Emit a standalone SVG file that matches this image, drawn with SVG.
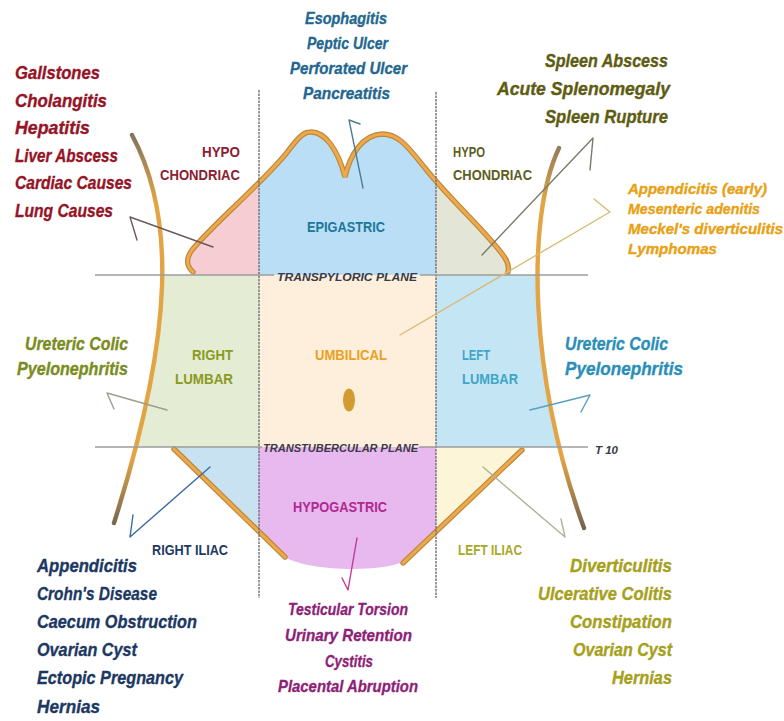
<svg xmlns="http://www.w3.org/2000/svg" width="784" height="721" viewBox="0 0 784 721">
  <style>
    .list { font-family: "Liberation Sans", Arial, sans-serif; font-weight: bold; font-style: italic; stroke-width: 0.35; }
    .lbl { font-family: "Liberation Sans", Arial, sans-serif; font-weight: bold; }
    .plane { font-family: "Liberation Sans", Arial, sans-serif; font-weight: bold; font-style: italic; font-size: 11px; fill: #3a3a48; }
    .vline { stroke: #6e6e76; stroke-width: 1.4; stroke-dasharray: 2.5 1; fill: none; }
    .hline { stroke: #9c9c9c; stroke-width: 1.6; fill: none; }
    .rim { fill: none; stroke: #b98a3e; stroke-width: 5.4; stroke-linecap: round; }
    .rim-in { fill: none; stroke: #f0a84a; stroke-width: 3; stroke-linecap: round; }
    .side { fill: none; stroke: url(#sideGrad); stroke-width: 4.4; stroke-linecap: round; }
    .conn { fill: none; stroke-width: 1.4; stroke-linecap: round; stroke-linejoin: round; }
  </style>
  <defs>
    <linearGradient id="sideGrad" gradientUnits="userSpaceOnUse" x1="0" y1="130" x2="0" y2="530">
      <stop offset="0" stop-color="#7d7060"/>
      <stop offset="0.18" stop-color="#e2a444"/>
      <stop offset="0.82" stop-color="#e2a444"/>
      <stop offset="1" stop-color="#6f6252"/>
    </linearGradient>
    <clipPath id="upperClip">
      <path d="M193,276 L193,272 C186,266 186,258 192,250 C215,222 255,190 285,155 C295,142 302,132 310,132 C325,131 338,150 345,177 C350,155 362,135 382,134 C400,134 410,150 425,168 C450,200 490,235 505,258 C509,264 509,268 508,276 Z"/>
    </clipPath>
    <clipPath id="bodyClip">
      <path d="M132,135 C175,215 175,330 114,523 L584,528 C530,380 525,220 559,148 Z"/>
    </clipPath>
  </defs>

  <rect width="784" height="721" fill="#ffffff"/>

  <!-- region fills -->
  <g id="region-right-hypochondriac">
    <rect x="150" y="120" width="109" height="155" fill="#f6cdd3" clip-path="url(#upperClip)"/>
    <text class="lbl" x="240" y="157" font-size="14" fill="#8a2030" text-anchor="end" textLength="38" lengthAdjust="spacingAndGlyphs">HYPO</text>
    <text class="lbl" x="240" y="180" font-size="14" fill="#8a2030" text-anchor="end" textLength="80" lengthAdjust="spacingAndGlyphs">CHONDRIAC</text>
  </g>
  <g id="region-epigastric">
    <rect x="259" y="120" width="177" height="155" fill="#b9def5" clip-path="url(#upperClip)"/>
    <text class="lbl" x="307" y="232" font-size="14" fill="#1a7898" textLength="78" lengthAdjust="spacingAndGlyphs">EPIGASTRIC</text>
  </g>
  <g id="region-left-hypochondriac">
    <rect x="436" y="120" width="90" height="155" fill="#e3e6d7" clip-path="url(#upperClip)"/>
    <text class="lbl" x="453" y="157" font-size="14" fill="#5e5e1e" textLength="32" lengthAdjust="spacingAndGlyphs">HYPO</text>
    <text class="lbl" x="453" y="180" font-size="14" fill="#5e5e1e" textLength="79" lengthAdjust="spacingAndGlyphs">CHONDRIAC</text>
  </g>
  <g id="region-right-lumbar">
    <rect x="100" y="275" width="159" height="172" fill="#e4ecd4" clip-path="url(#bodyClip)"/>
    <text class="lbl" x="233" y="360" font-size="14" fill="#8a9a20" text-anchor="end" textLength="41" lengthAdjust="spacingAndGlyphs">RIGHT</text>
    <text class="lbl" x="233" y="384" font-size="14" fill="#8a9a20" text-anchor="end" textLength="58" lengthAdjust="spacingAndGlyphs">LUMBAR</text>
  </g>
  <g id="region-umbilical">
    <rect x="259" y="275" width="177" height="172" fill="#fdefdc"/>
    <text class="lbl" x="315" y="360" font-size="14" fill="#eaa020" textLength="72" lengthAdjust="spacingAndGlyphs">UMBILICAL</text>
    <ellipse cx="349" cy="400" rx="6" ry="11.5" fill="#d49a30"/>
  </g>
  <g id="region-left-lumbar">
    <rect x="436" y="275" width="170" height="172" fill="#c4e5f4" clip-path="url(#bodyClip)"/>
    <text class="lbl" x="462" y="360" font-size="14" fill="#3fa6c6" textLength="28" lengthAdjust="spacingAndGlyphs">LEFT</text>
    <text class="lbl" x="462" y="384" font-size="14" fill="#3fa6c6" textLength="56" lengthAdjust="spacingAndGlyphs">LUMBAR</text>
  </g>
  <g id="region-right-iliac">
    <polygon points="173,447 259,447 259,531" fill="#c8e2f2"/>
    <text class="lbl" x="152" y="555" font-size="14" fill="#1e3a60" textLength="76" lengthAdjust="spacingAndGlyphs">RIGHT ILIAC</text>
  </g>
  <g id="region-hypogastric">
    <path d="M259,447 L436,447 L436,531 L403,562 C380,572 310,572 285,557 L259,531 Z" fill="#e7b9ee"/>
    <text class="lbl" x="293" y="512" font-size="14" fill="#b02890" textLength="94" lengthAdjust="spacingAndGlyphs">HYPOGASTRIC</text>
  </g>
  <g id="region-left-iliac">
    <polygon points="436,447 523,447 523,449 436,531" fill="#fcf5d8"/>
    <text class="lbl" x="458" y="555" font-size="14" fill="#a8a828" textLength="64" lengthAdjust="spacingAndGlyphs">LEFT ILIAC</text>
  </g>

  <!-- body outline -->
  <g id="outline">
    <path class="rim" d="M193,272 C186,266 186,258 192,250 C215,222 255,190 285,155 C295,142 302,132 310,132 C325,131 338,150 345,177 C350,155 362,135 382,134 C400,134 410,150 425,168 C450,200 490,235 505,258 C509,264 509,268 508,272"/>
    <path class="rim-in" d="M193,272 C186,266 186,258 192,250 C215,222 255,190 285,155 C295,142 302,132 310,132 C325,131 338,150 345,177 C350,155 362,135 382,134 C400,134 410,150 425,168 C450,200 490,235 505,258 C509,264 509,268 508,272"/>
    <path class="rim" d="M174,449 L285,557"/>
    <path class="rim-in" d="M174,449 L285,557"/>
    <path class="rim" d="M522,450 L403,563"/>
    <path class="rim-in" d="M522,450 L403,563"/>
    <path class="side" d="M132,135 C175,215 175,330 114,523"/>
    <path class="side" d="M559,148 C525,220 530,380 584,528"/>
  </g>

  <!-- planes -->
  <g id="planes">
    <line class="vline" x1="259" y1="90" x2="259" y2="598"/>
    <line class="vline" x1="436" y1="92" x2="436" y2="598"/>
    <line class="hline" x1="95" y1="275" x2="274" y2="275"/>
    <line class="hline" x1="420" y1="275" x2="588" y2="275"/>
    <line class="hline" x1="95" y1="447" x2="262" y2="447"/>
    <line class="hline" x1="419" y1="447" x2="588" y2="447"/>
    <text class="plane" x="277" y="281" textLength="140" lengthAdjust="spacingAndGlyphs">TRANSPYLORIC PLANE</text>
    <text class="plane" x="263" y="452" textLength="155" lengthAdjust="spacingAndGlyphs">TRANSTUBERCULAR PLANE</text>
    <text class="plane" x="595" y="454" font-size="12" textLength="23" lengthAdjust="spacingAndGlyphs">T 10</text>
  </g>

  <!-- pointers from regions to their lists -->
  <g id="connectors">
    <path class="conn" stroke="#6a5a5e" d="M213,247 L130,217 L137,240"/>
    <path class="conn" stroke="#4f7e92" d="M363,188 L349,120 L360,124"/>
    <path class="conn" stroke="#7a7a6a" d="M482,255 L593,138 L590,170"/>
    <path class="conn" stroke="#d9bb72" d="M400,335 L610,212 L594,199"/>
    <path class="conn" stroke="#9aa08a" d="M167,410 L107,393 L114,409"/>
    <path class="conn" stroke="#5a9ec0" d="M530,410 L590,395 L581,412"/>
    <path class="conn" stroke="#3a6aa0" d="M210,467 L130,537 L133,515"/>
    <path class="conn" stroke="#c03a9a" d="M357,538 L348,590 L342,578"/>
    <path class="conn" stroke="#a8b498" d="M483,467 L565,537 L561,519"/>
  </g>

  <!-- condition lists -->
  <g id="list-epigastric" class="list" fill="#23678f" stroke="#23678f" font-size="17">
    <text x="305" y="24" textLength="82" lengthAdjust="spacingAndGlyphs">Esophagitis</text>
    <text x="307" y="49" textLength="81" lengthAdjust="spacingAndGlyphs">Peptic Ulcer</text>
    <text x="290" y="74" textLength="117" lengthAdjust="spacingAndGlyphs">Perforated Ulcer</text>
    <text x="303" y="99" textLength="87" lengthAdjust="spacingAndGlyphs">Pancreatitis</text>
  </g>
  <g id="list-right-hypochondriac" class="list" fill="#951426" stroke="#951426" font-size="19">
    <text x="15" y="79" textLength="85" lengthAdjust="spacingAndGlyphs">Gallstones</text>
    <text x="15" y="107" textLength="92" lengthAdjust="spacingAndGlyphs">Cholangitis</text>
    <text x="15" y="134" textLength="75" lengthAdjust="spacingAndGlyphs">Hepatitis</text>
    <text x="15" y="162" textLength="103" lengthAdjust="spacingAndGlyphs">Liver Abscess</text>
    <text x="15" y="189" textLength="117" lengthAdjust="spacingAndGlyphs">Cardiac Causes</text>
    <text x="15" y="217" textLength="98" lengthAdjust="spacingAndGlyphs">Lung Causes</text>
  </g>
  <g id="list-left-hypochondriac" class="list" fill="#5e5c12" stroke="#5e5c12" font-size="18" text-anchor="end">
    <text x="668" y="67" textLength="123" lengthAdjust="spacingAndGlyphs">Spleen Abscess</text>
    <text x="670" y="95" textLength="173" lengthAdjust="spacingAndGlyphs">Acute Splenomegaly</text>
    <text x="668" y="123" textLength="123" lengthAdjust="spacingAndGlyphs">Spleen Rupture</text>
  </g>
  <g id="list-umbilical" class="list" fill="#e9a012" stroke="#e9a012" font-size="15">
    <text x="628" y="194" textLength="139" lengthAdjust="spacingAndGlyphs">Appendicitis (early)</text>
    <text x="628" y="214" textLength="132" lengthAdjust="spacingAndGlyphs">Mesenteric adenitis</text>
    <text x="628" y="234" textLength="155" lengthAdjust="spacingAndGlyphs">Meckel's diverticulitis</text>
    <text x="628" y="254" textLength="89" lengthAdjust="spacingAndGlyphs">Lymphomas</text>
  </g>
  <g id="list-right-lumbar" class="list" fill="#7a8c1e" stroke="#7a8c1e" font-size="18" text-anchor="end">
    <text x="128" y="350" textLength="103" lengthAdjust="spacingAndGlyphs">Ureteric Colic</text>
    <text x="128" y="375" textLength="111" lengthAdjust="spacingAndGlyphs">Pyelonephritis</text>
  </g>
  <g id="list-left-lumbar" class="list" fill="#2a8fb8" stroke="#2a8fb8" font-size="18">
    <text x="565" y="350" textLength="103" lengthAdjust="spacingAndGlyphs">Ureteric Colic</text>
    <text x="565" y="375" textLength="118" lengthAdjust="spacingAndGlyphs">Pyelonephritis</text>
  </g>
  <g id="list-right-iliac" class="list" fill="#1c3862" stroke="#1c3862" font-size="19">
    <text x="37" y="572" textLength="100" lengthAdjust="spacingAndGlyphs">Appendicitis</text>
    <text x="37" y="600" textLength="120" lengthAdjust="spacingAndGlyphs">Crohn's Disease</text>
    <text x="37" y="628" textLength="160" lengthAdjust="spacingAndGlyphs">Caecum Obstruction</text>
    <text x="37" y="656" textLength="100" lengthAdjust="spacingAndGlyphs">Ovarian Cyst</text>
    <text x="37" y="684" textLength="146" lengthAdjust="spacingAndGlyphs">Ectopic Pregnancy</text>
    <text x="37" y="713" textLength="63" lengthAdjust="spacingAndGlyphs">Hernias</text>
  </g>
  <g id="list-hypogastric" class="list" fill="#8e1f78" stroke="#8e1f78" font-size="17">
    <text x="288" y="615" textLength="120" lengthAdjust="spacingAndGlyphs">Testicular Torsion</text>
    <text x="285" y="641" textLength="127" lengthAdjust="spacingAndGlyphs">Urinary Retention</text>
    <text x="325" y="667" textLength="48" lengthAdjust="spacingAndGlyphs">Cystitis</text>
    <text x="278" y="692" textLength="140" lengthAdjust="spacingAndGlyphs">Placental Abruption</text>
  </g>
  <g id="list-left-iliac" class="list" fill="#a6a01a" stroke="#a6a01a" font-size="18" text-anchor="end">
    <text x="672" y="572" textLength="102" lengthAdjust="spacingAndGlyphs">Diverticulitis</text>
    <text x="672" y="600" textLength="134" lengthAdjust="spacingAndGlyphs">Ulcerative Colitis</text>
    <text x="672" y="628" textLength="102" lengthAdjust="spacingAndGlyphs">Constipation</text>
    <text x="672" y="656" textLength="99" lengthAdjust="spacingAndGlyphs">Ovarian Cyst</text>
    <text x="672" y="684" textLength="60" lengthAdjust="spacingAndGlyphs">Hernias</text>
  </g>
</svg>
